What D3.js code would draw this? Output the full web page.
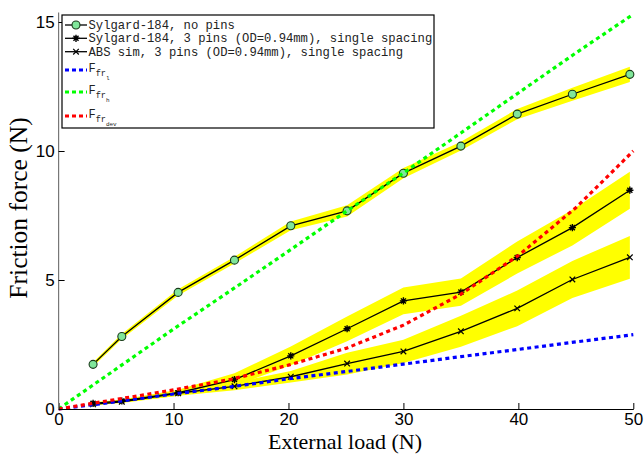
<!DOCTYPE html>
<html><head><meta charset="utf-8">
<script src="https://cdn.jsdelivr.net/npm/d3@7"></script>
<style>
html,body{margin:0;padding:0;background:#fff;}
svg{display:block;}
</style></head>
<body><svg id="chart" width="644" height="454"></svg>
<script>
// measured data
const loads = [3, 5.5, 10.4, 15.3, 20.2, 25.1, 30, 35, 39.9, 44.7, 49.7];
const noPins = [1.73, 2.81, 4.52, 5.77, 7.10, 7.68, 9.14, 10.19, 11.43, 12.2, 12.97];
const noPinsErr = [0.08, 0.1, 0.12, 0.13, 0.17, 0.22, 0.2, 0.17, 0.2, 0.25, 0.3];
const pins3 = [0.22, 0.31, 0.63, 1.14, 2.06, 3.11, 4.19, 4.53, 5.87, 7.03, 8.48];
const pins3Err = [0.04, 0.06, 0.12, 0.25, 0.36, 0.48, 0.52, 0.53, 0.62, 0.69, 0.72];
const absSim = [0.18, 0.28, 0.61, 0.88, 1.25, 1.76, 2.23, 3.01, 3.9, 5.02, 5.88];
const absErr = [0.03, 0.05, 0.1, 0.15, 0.22, 0.42, 0.45, 0.6, 0.69, 0.72, 0.83];
const theoryX = [0, 5, 10, 15, 20, 25, 30, 35, 40, 45, 50];
const ffrL = [0, 0.28, 0.58, 0.86, 1.17, 1.45, 1.74, 2.03, 2.31, 2.6, 2.88];
const ffrH = [0, 1.55, 3.1, 4.6, 6.12, 7.65, 9.15, 10.7, 12.25, 13.8, 15.3];
const ffrDev = [0, 0.37, 0.74, 1.15, 1.7, 2.35, 3.25, 4.45, 5.95, 7.8, 10.0];
const xTicks = [0, 10, 20, 30, 40, 50];
const yTicks = [0, 5, 10, 15];
const legendLabels = ["Sylgard-184, no pins", "Sylgard-184, 3 pins (OD=0.94mm), single spacing", "ABS sim, 3 pins (OD=0.94mm), single spacing"];

const svg = d3.select("#chart");
const x = d3.scaleLinear().domain([0, 50]).range([58.6, 633.3]);
const y = d3.scaleLinear().domain([0, 15]).range([409, 22]);
const yTop = 12.5;

// bands
const area = d3.area().x(d => x(d.x)).y0(d => y(d.v - d.e)).y1(d => y(d.v + d.e));
function pts(vals, errs) { return loads.map((l, i) => ({x: l, v: vals[i], e: errs ? errs[i] : 0})); }
[[noPins, noPinsErr], [pins3, pins3Err], [absSim, absErr]].forEach(([v, e]) => {
  svg.append("path").datum(pts(v, e)).attr("d", area).attr("fill", "#ffff00");
});

const line = d3.line().x(d => x(d.x)).y(d => y(d.v));
[noPins, pins3, absSim].forEach(v => {
  svg.append("path").datum(pts(v)).attr("d", line).attr("fill", "none").attr("stroke", "#000").attr("stroke-width", 1.3);
});

// markers
function circleMarker(g, cx, cy) {
  g.append("circle").attr("cx", cx).attr("cy", cy).attr("r", 4).attr("fill", "#80e69a").attr("stroke", "#1a3a1a").attr("stroke-width", 1.1);
}
function starMarker(g, cx, cy) {
  const s = 3.6;
  g.append("path").attr("d", `M${cx-s},${cy}H${cx+s}M${cx},${cy-s}V${cy+s}M${cx-s*0.7},${cy-s*0.7}L${cx+s*0.7},${cy+s*0.7}M${cx-s*0.7},${cy+s*0.7}L${cx+s*0.7},${cy-s*0.7}`)
    .attr("stroke", "#000").attr("stroke-width", 1.4).attr("fill", "none");
}
function xMarker(g, cx, cy) {
  const s = 2.8;
  g.append("path").attr("d", `M${cx-s},${cy-s}L${cx+s},${cy+s}M${cx-s},${cy+s}L${cx+s},${cy-s}`)
    .attr("stroke", "#000").attr("stroke-width", 1.2).attr("fill", "none");
}
const mg = svg.append("g");
loads.forEach((l, i) => {
  circleMarker(mg, x(l), y(noPins[i]));
  starMarker(mg, x(l), y(pins3[i]));
  xMarker(mg, x(l), y(absSim[i]));
});

// theory dotted lines
const tline = d3.line().x(d => x(d.x)).y(d => y(d.v));
[[ffrL, "#0000ff"], [ffrH, "#00ff00"], [ffrDev, "#ff0000"]].forEach(([v, c]) => {
  svg.append("path").datum(theoryX.map((t, i) => ({x: t, v: v[i]}))).attr("d", tline)
    .attr("fill", "none").attr("stroke", c).attr("stroke-width", 3.2).attr("stroke-dasharray", "4,3.5");
});

// axes
const xAxis = d3.axisBottom(x).tickValues(xTicks).tickSizeInner(-6).tickSizeOuter(0).tickPadding(4);
const gx = svg.append("g").attr("transform", "translate(0,409)").call(xAxis);
gx.select(".domain").attr("stroke", "#000").attr("stroke-width", 1);
gx.selectAll("text").attr("font-family", "Liberation Sans, Arial, sans-serif").attr("font-size", 17).attr("fill", "#000");
gx.selectAll("line").attr("stroke", "#000");

const yAxis = d3.axisLeft(y).tickValues(yTicks).tickSizeInner(-6).tickSizeOuter(0).tickPadding(4);
const gy = svg.append("g").attr("transform", "translate(58.6,0)").call(yAxis);
gy.select(".domain").attr("d", `M0,409V${yTop}`).attr("stroke", "#777").attr("stroke-width", 1.2);
gy.selectAll("text").attr("font-family", "Liberation Sans, Arial, sans-serif").attr("font-size", 17).attr("fill", "#000");
gy.selectAll("line").attr("stroke", "#000");

// axis labels
svg.append("text").attr("x", 345).attr("y", 449).attr("text-anchor", "middle")
  .attr("font-family", "Liberation Serif, Times New Roman, serif").attr("font-size", 22).text("External load (N)");
svg.append("text").attr("transform", "translate(27,208) rotate(-90)").attr("text-anchor", "middle")
  .attr("font-family", "Liberation Serif, Times New Roman, serif").attr("font-size", 25.5).text("Friction force (N)");

// legend
const lg = svg.append("g");
lg.append("rect").attr("x", 62).attr("y", 15).attr("width", 372).attr("height", 113)
  .attr("fill", "#fff").attr("stroke", "#000").attr("stroke-width", 1.2);
const mono = "Liberation Mono, Courier New, monospace";
const rowY = [25, 38.3, 51.7];
legendLabels.forEach((t, i) => {
  lg.append("line").attr("x1", 65).attr("x2", 87).attr("y1", rowY[i]).attr("y2", rowY[i]).attr("stroke", "#000").attr("stroke-width", 1.3);
  if (i === 0) circleMarker(lg, 76, rowY[i]);
  if (i === 1) starMarker(lg, 76, rowY[i]);
  if (i === 2) xMarker(lg, 76, rowY[i]);
  lg.append("text").attr("x", 88.5).attr("y", rowY[i] + 4).attr("font-family", mono).attr("font-size", 12.2).attr("fill", "#222").text(t);
});
const fRows = [[70, "#0000ff", "l"], [92, "#00ff00", "h"], [116, "#ff0000", "dev"]];
fRows.forEach(([yy, c, sub]) => {
  lg.append("line").attr("x1", 65).attr("x2", 87).attr("y1", yy).attr("y2", yy).attr("stroke", c).attr("stroke-width", 3).attr("stroke-dasharray", "4,3");
  const t = lg.append("text").attr("x", 88.5).attr("y", yy + 2).attr("font-family", mono).attr("fill", "#222");
  t.append("tspan").attr("font-size", 12).text("F");
  t.append("tspan").attr("font-size", 8.5).attr("dy", 4).text("fr");
  t.append("tspan").attr("font-size", 6).attr("dy", 4).text(sub);
});
</script></body></html>
